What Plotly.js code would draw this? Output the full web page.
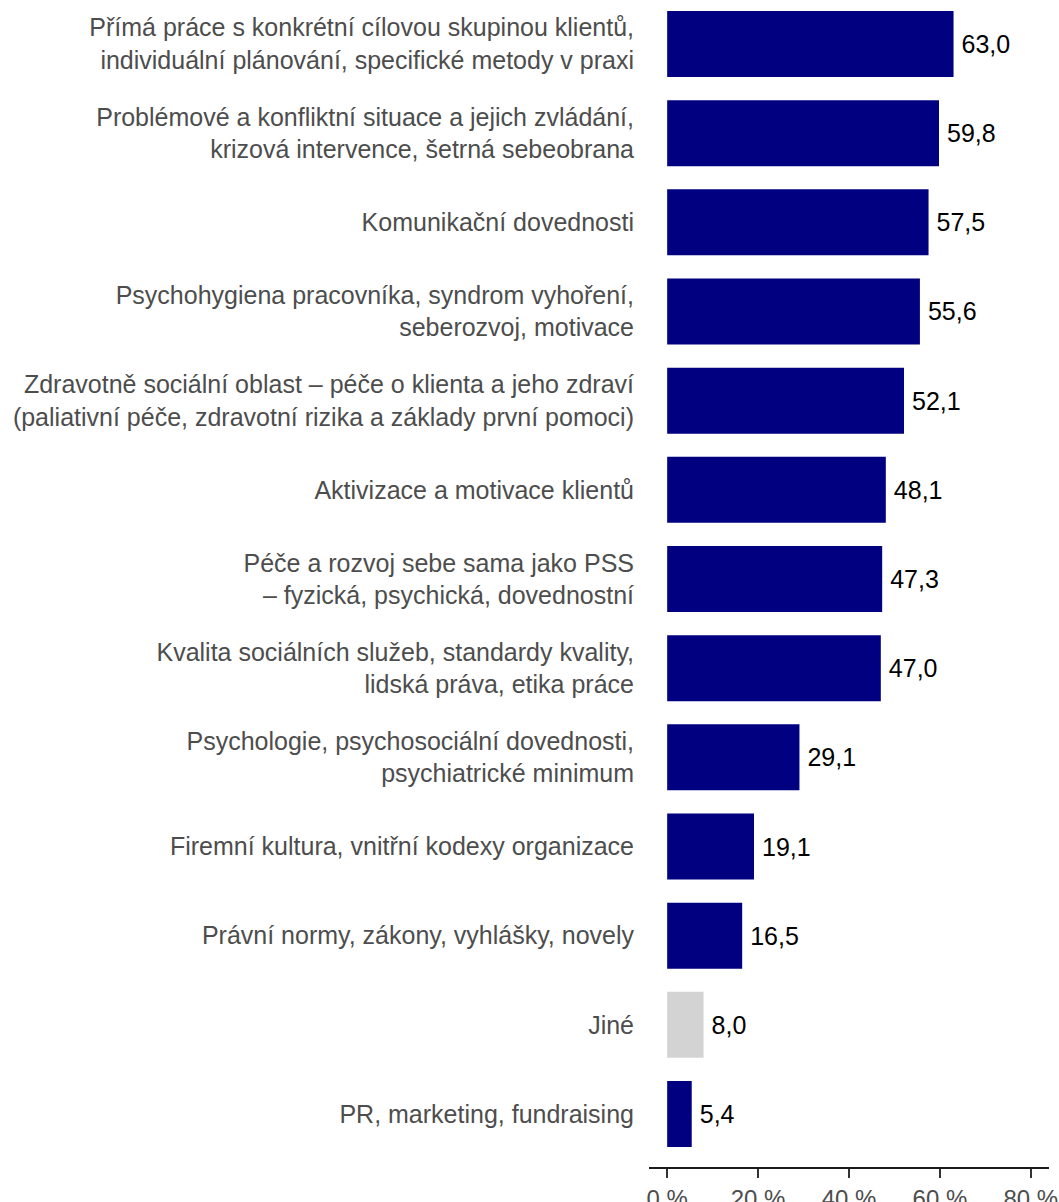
<!DOCTYPE html>
<html>
<head>
<meta charset="utf-8">
<script src="https://cdn.plot.ly/plotly-3.0.1.min.js"></script>
<style>html,body{margin:0;padding:0;background:#fff;}</style>
</head>
<body>
<div id="chart" style="width:1059px;height:1202px;"></div>
<script>
const categories = [
  "Přímá práce s konkrétní cílovou skupinou klientů,<br>individuální plánování, specifické metody v praxi",
  "Problémové a konfliktní situace a jejich zvládání,<br>krizová intervence, šetrná sebeobrana",
  "Komunikační dovednosti",
  "Psychohygiena pracovníka, syndrom vyhoření,<br>seberozvoj, motivace",
  "Zdravotně sociální oblast – péče o klienta a jeho zdraví<br>(paliativní péče, zdravotní rizika a základy první pomoci)",
  "Aktivizace a motivace klientů",
  "Péče a rozvoj sebe sama jako PSS<br>– fyzická, psychická, dovednostní",
  "Kvalita sociálních služeb, standardy kvality,<br>lidská práva, etika práce",
  "Psychologie, psychosociální dovednosti,<br>psychiatrické minimum",
  "Firemní kultura, vnitřní kodexy organizace",
  "Právní normy, zákony, vyhlášky, novely",
  "Jiné",
  "PR, marketing, fundraising"
];
const values = [63.0, 59.8, 57.5, 55.6, 52.1, 48.1, 47.3, 47.0, 29.1, 19.1, 16.5, 8.0, 5.4];
const isOther = [false, false, false, false, false, false, false, false, false, false, false, true, false];
const tickValues = [0, 20, 40, 60, 80];

const colors = isOther.map(o => o ? "#D3D3D3" : "#000080");

const trace = {
  type: "bar",
  orientation: "h",
  x: values,
  y: categories,
  width: 0.74,
  marker: {color: colors, line: {width: 0}},
  texttemplate: "\u2009%{x:.1f}",
  textposition: "outside",
  cliponaxis: false,
  textfont: {family: "Liberation Sans, Arial, sans-serif", size: 25, color: "#000000"},
  hoverinfo: "skip"
};

const layout = {
  width: 1059,
  height: 1202,
  margin: {l: 649, r: 10, t: 0, b: 35},
  paper_bgcolor: "#ffffff",
  plot_bgcolor: "#ffffff",
  separators: ", ",
  showlegend: false,
  xaxis: {
    range: [-4, 84],
    tickvals: tickValues,
    ticktext: tickValues.map(v => v + " %"),
    showgrid: false,
    zeroline: false,
    showline: true,
    linecolor: "#1a1a1a",
    linewidth: 2,
    ticks: "outside",
    ticklen: 9,
    tickwidth: 2,
    tickcolor: "#333333",
    tickfont: {family: "Liberation Sans, Arial, sans-serif", size: 24, color: "#4d4d4d"},
    fixedrange: true
  },
  yaxis: {
    type: "category",
    categoryorder: "array",
    categoryarray: categories,
    range: [12.594, -0.493],
    showgrid: false,
    zeroline: false,
    showline: false,
    ticks: "",
    ticklabelstandoff: 14,
    tickfont: {family: "Liberation Sans, Arial, sans-serif", size: 25, color: "#4d4d4d"},
    fixedrange: true
  }
};

Plotly.newPlot("chart", [trace], layout, {displayModeBar: false, staticPlot: true});
</script>
</body>
</html>
